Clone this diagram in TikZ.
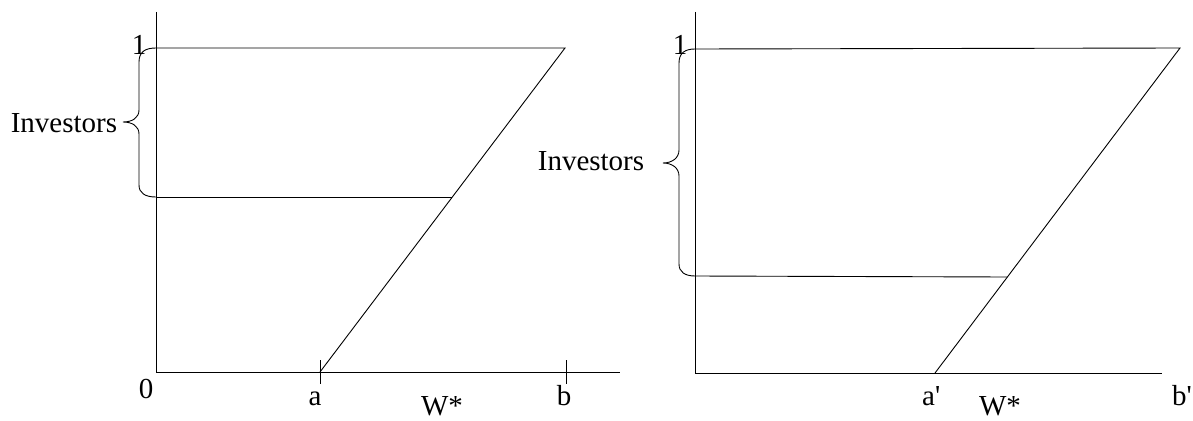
\documentclass[tikz,border=0pt]{standalone}
\usepackage{fontspec}
\setmainfont{Liberation Serif}
\begin{document}
\begin{tikzpicture}[x=1pt,y=-1pt,
  ln/.style={line width=0.9pt,black},
  lbl/.style={inner sep=0pt,anchor=base,font=\fontsize{29}{34}\selectfont}]
\useasboundingbox (0,0) rectangle (1193,420);
% ---------- left panel ----------
\coordinate (Ltop) at (156,12);
\coordinate (Lo) at (156,372);
\coordinate (Lxe) at (620,372);
\coordinate (L1) at (156,48);
\coordinate (Lc) at (565,48);
\coordinate (La) at (320,372);
\coordinate (Lm) at (156,197);
\coordinate (Lmi) at (452,197);
\draw[ln] (Ltop) -- (Lo) -- (Lxe);
\draw[ln] (L1) -- (Lc) -- (La);
\draw[ln] (Lm) -- (Lmi);
\coordinate (Lta1) at (320,360); \coordinate (Lta2) at (320,384);
\coordinate (Ltb1) at (566,360); \coordinate (Ltb2) at (566,384);
\draw[ln] (Lta1) -- (Lta2);
\draw[ln] (Ltb1) -- (Ltb2);
\draw[ln] (L1) .. controls (145,48) and (139,52) .. (139,62) -- (139,110)
  .. controls (139,118) and (132,122) .. (123,122)
  .. controls (132,122) and (139,126) .. (139,134) -- (139,185)
  .. controls (139,193) and (145,197) .. (Lm);
\node[lbl] (Lone) at (139,55) {1};
\node[lbl] (Lzero) at (146,398) {0};
\node[lbl] (Linv) at (64,132) {Investors};
\node[lbl] (Llba) at (315,405) {a};
\node[lbl] (LW) at (442,415) {W*};
\node[lbl] (Llbb) at (564,405) {b};
% ---------- right panel ----------
\coordinate (Rtop) at (695,12);
\coordinate (Ro) at (695,373);
\coordinate (Rxe) at (1162,373);
\coordinate (R1) at (695,49);
\coordinate (Rc) at (1180,48);
\coordinate (Ra) at (935,373);
\coordinate (Rm) at (695,276);
\coordinate (Rmi) at (1007,277);
\draw[ln] (Rtop) -- (Ro) -- (Rxe);
\draw[ln] (R1) -- (Rc) -- (Ra);
\draw[ln] (Rm) -- (Rmi);
\draw[ln] (R1) .. controls (685,49) and (679,53) .. (679,63) -- (679,150)
  .. controls (679,158) and (672,163) .. (663,163)
  .. controls (672,163) and (679,168) .. (679,176) -- (679,264)
  .. controls (679,272) and (685,276) .. (Rm);
\node[lbl] (Rone) at (680,55) {1};
\node[lbl] (Rinv) at (591,170) {Investors};
\node[lbl,anchor=base west] (Rlba) at (922,405) {a\textquotesingle};
\node[lbl] (RW) at (1000,415) {W*};
\node[lbl,anchor=base west] (Rlbb) at (1172,405) {b\textquotesingle};
\end{tikzpicture}
\end{document}
